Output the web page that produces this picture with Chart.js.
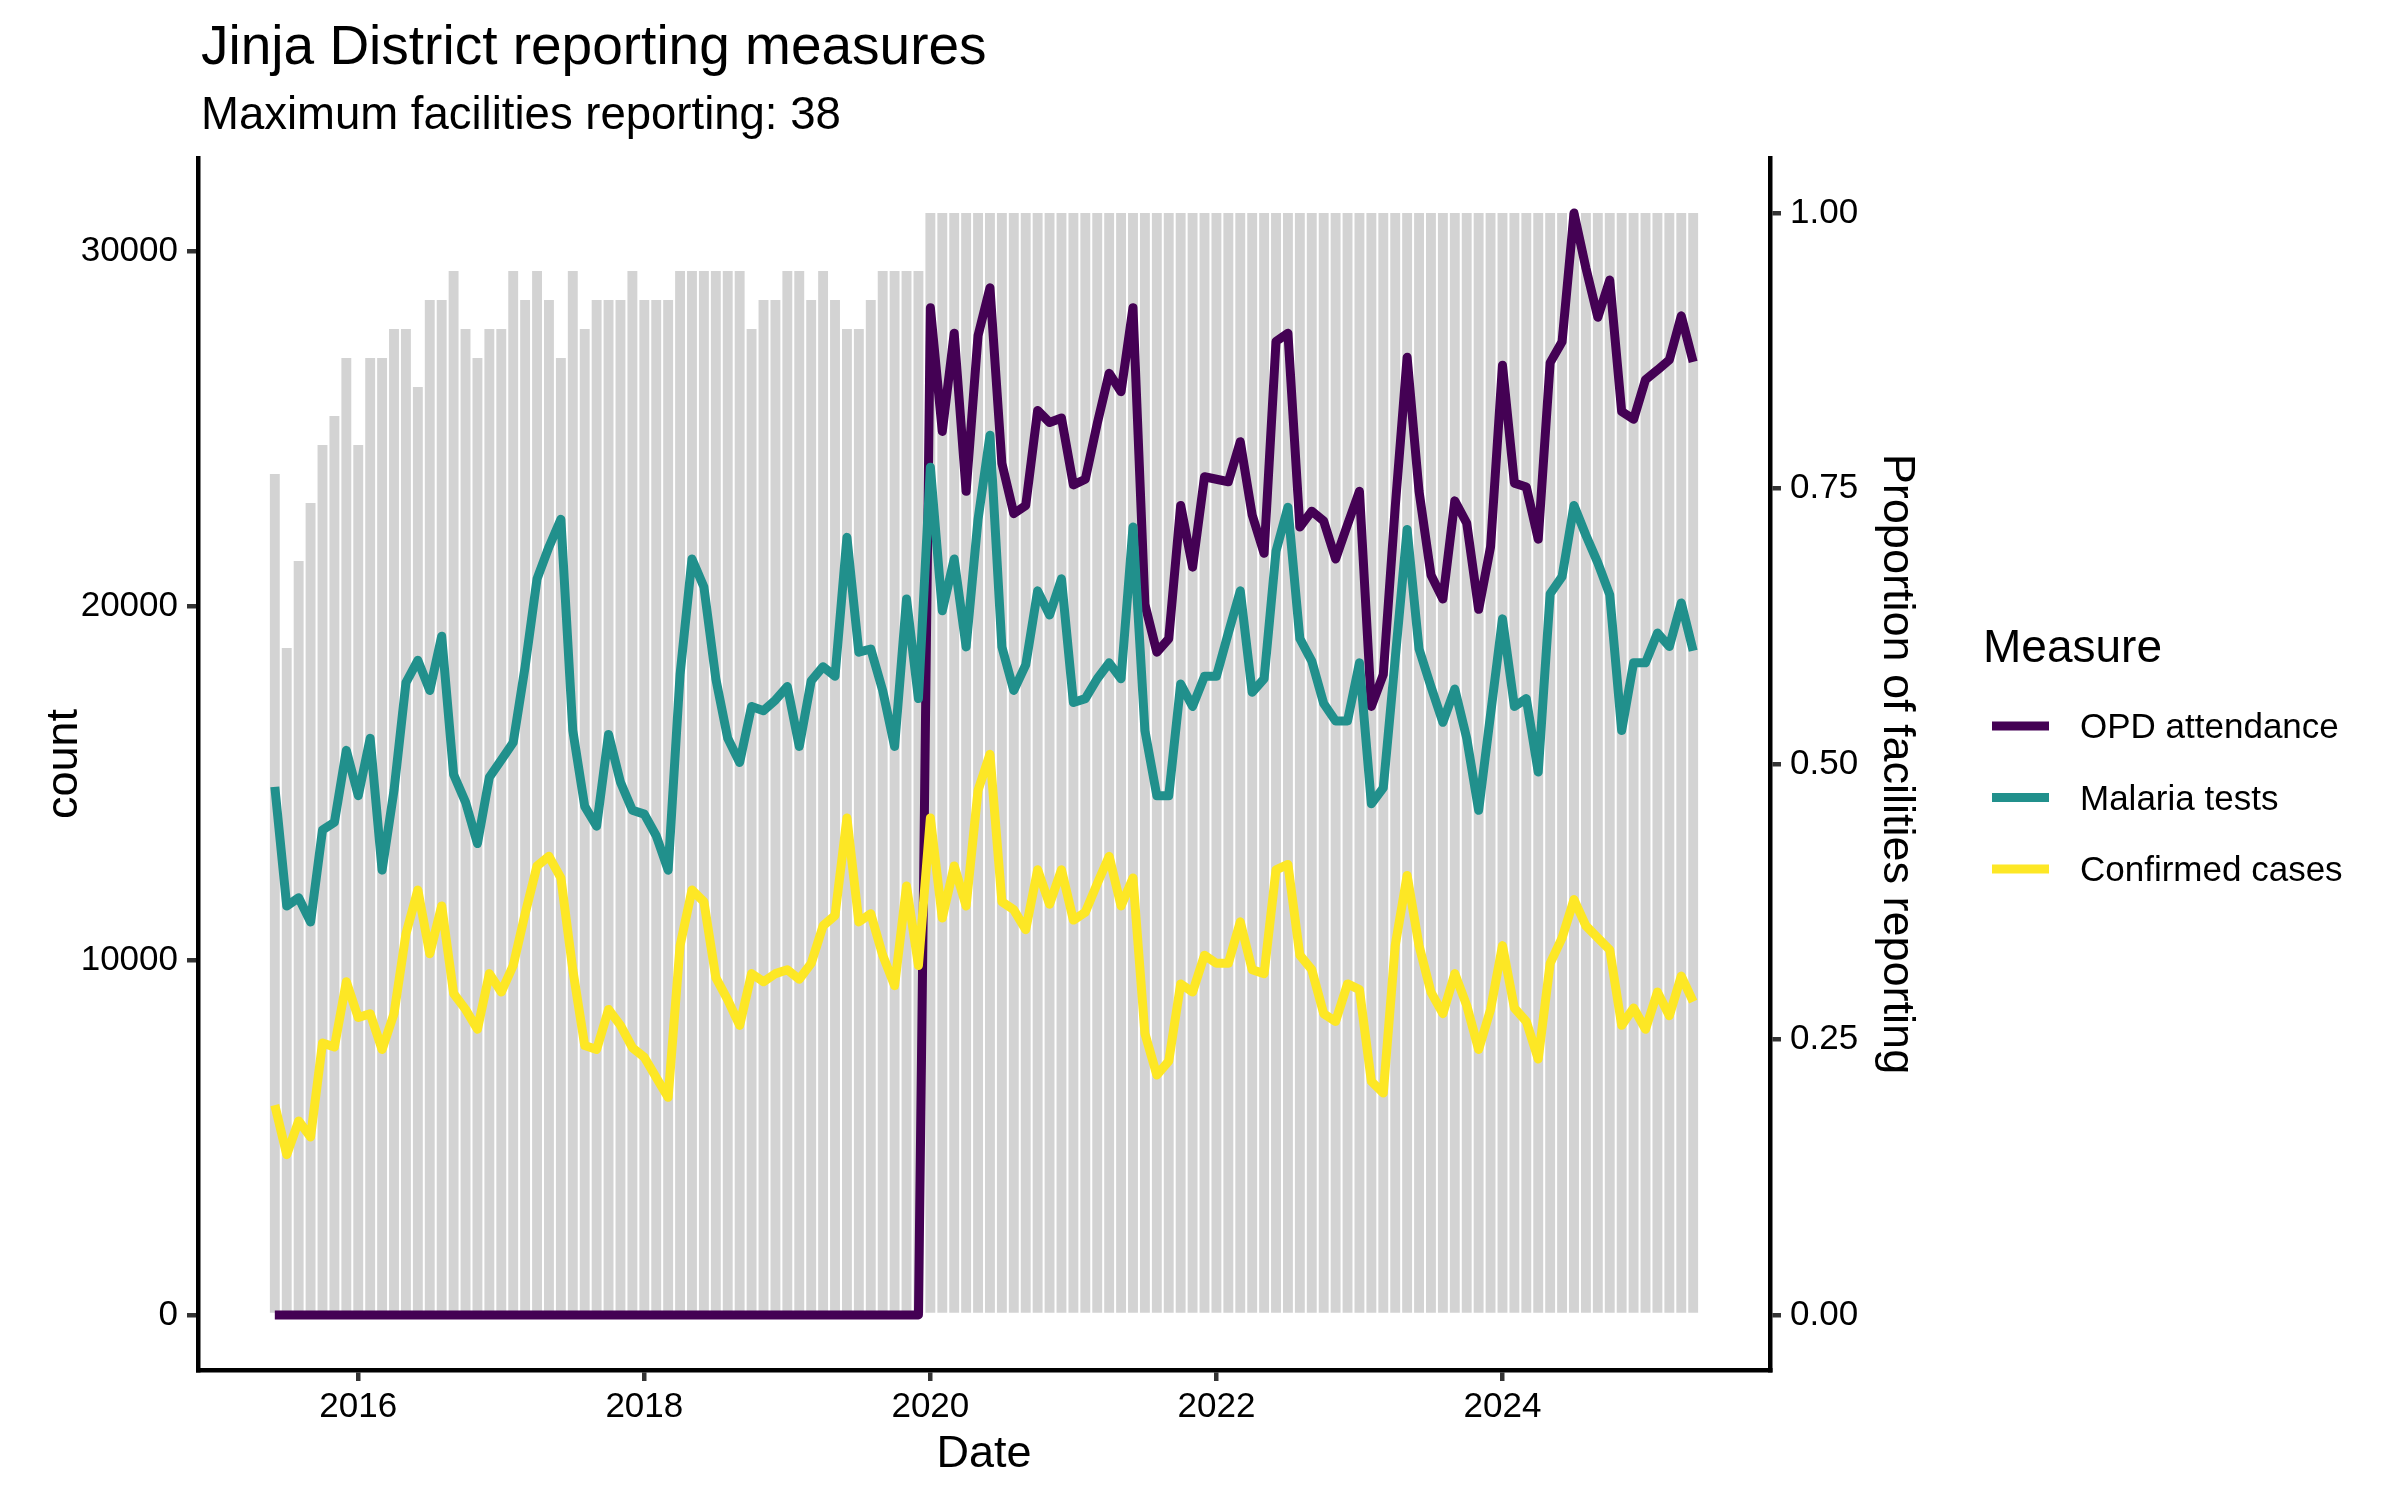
<!DOCTYPE html>
<html>
<head>
<meta charset="utf-8">
<title>Jinja District reporting measures</title>
<script src="https://cdn.jsdelivr.net/npm/chart.js@4.4.1/dist/chart.umd.min.js"></script>
<style>
  html, body { margin: 0; padding: 0; background: #fff; }
  canvas { display: block; }
</style>
</head>
<body>
<canvas id="reportChart" width="2400" height="1500"></canvas>
<script>
// monthly reporting, Jinja District
const months = [
  '2015-06','2015-07','2015-08','2015-09','2015-10','2015-11','2015-12',
  '2016-01','2016-02','2016-03','2016-04','2016-05','2016-06','2016-07','2016-08','2016-09','2016-10','2016-11','2016-12',
  '2017-01','2017-02','2017-03','2017-04','2017-05','2017-06','2017-07','2017-08','2017-09','2017-10','2017-11','2017-12',
  '2018-01','2018-02','2018-03','2018-04','2018-05','2018-06','2018-07','2018-08','2018-09','2018-10','2018-11','2018-12',
  '2019-01','2019-02','2019-03','2019-04','2019-05','2019-06','2019-07','2019-08','2019-09','2019-10','2019-11','2019-12',
  '2020-01','2020-02','2020-03','2020-04','2020-05','2020-06','2020-07','2020-08','2020-09','2020-10','2020-11','2020-12',
  '2021-01','2021-02','2021-03','2021-04','2021-05','2021-06','2021-07','2021-08','2021-09','2021-10','2021-11','2021-12',
  '2022-01','2022-02','2022-03','2022-04','2022-05','2022-06','2022-07','2022-08','2022-09','2022-10','2022-11','2022-12',
  '2023-01','2023-02','2023-03','2023-04','2023-05','2023-06','2023-07','2023-08','2023-09','2023-10','2023-11','2023-12',
  '2024-01','2024-02','2024-03','2024-04','2024-05','2024-06','2024-07','2024-08','2024-09','2024-10','2024-11','2024-12',
  '2025-01','2025-02','2025-03','2025-04','2025-05'
];

const maxFacilities = 38;
const facilities = [
  29, 23, 26, 28, 30, 31, 33, 30, 33, 33,
  34, 34, 32, 35, 35, 36, 34, 33, 34, 34,
  36, 35, 36, 35, 33, 36, 34, 35, 35, 35,
  36, 35, 35, 35, 36, 36, 36, 36, 36, 36,
  34, 35, 35, 36, 36, 35, 36, 35, 34, 34,
  35, 36, 36, 36, 36, 38, 38, 38, 38, 38,
  38, 38, 38, 38, 38, 38, 38, 38, 38, 38,
  38, 38, 38, 38, 38, 38, 38, 38, 38, 38,
  38, 38, 38, 38, 38, 38, 38, 38, 38, 38,
  38, 38, 38, 38, 38, 38, 38, 38, 38, 38,
  38, 38, 38, 38, 38, 38, 38, 38, 38, 38,
  38, 38, 38, 38, 38, 38, 38, 38, 38, 38
];

const opdAttendance = [
  0, 0, 0, 0, 0, 0, 0, 0, 0, 0,
  0, 0, 0, 0, 0, 0, 0, 0, 0, 0,
  0, 0, 0, 0, 0, 0, 0, 0, 0, 0,
  0, 0, 0, 0, 0, 0, 0, 0, 0, 0,
  0, 0, 0, 0, 0, 0, 0, 0, 0, 0,
  0, 0, 0, 0, 0, 28420, 24930, 27700, 23240, 27630,
  28980, 24030, 22610, 22840, 25520, 25180, 25310, 23420, 23580, 25150,
  26570, 26050, 28420, 20050, 18700, 19080, 22840, 21100, 23650, 23580,
  23510, 24640, 22570, 21490, 27470, 27700, 22230, 22680, 22400, 21330,
  22300, 23240, 17170, 18070, 22790, 27020, 23240, 20880, 20200, 22970,
  22340, 19910, 21670, 26800, 23470, 23360, 21890, 26870, 27460, 31090,
  29540, 28150, 29200, 25490, 25270, 26390, 26660, 26950, 28190, 26890
];

const malariaTests = [
  14900, 11540, 11770, 11090, 13680, 13900, 15930, 14650, 16270, 12550,
  14800, 17840, 18470, 17620, 19150, 15250, 14470, 13300, 15170, 15660,
  16150, 18290, 20770, 21670, 22450, 16490, 14350, 13790, 16380, 15030,
  14240, 14130, 13520, 12550, 18070, 21330, 20540, 17950, 16270, 15590,
  17170, 17050, 17350, 17730, 16040, 17890, 18290, 18020, 21940, 18700,
  18790, 17620, 16040, 20200, 17390, 23920, 19870, 21330, 18850, 22450,
  24820, 18850, 17620, 18340, 20430, 19750, 20770, 17280, 17390, 17950,
  18400, 17950, 22230, 16490, 14650, 14650, 17800, 17170, 18020, 18020,
  19240, 20430, 17570, 17950, 21550, 22790, 19080, 18450, 17250, 16760,
  16760, 18400, 14420, 14870, 18520, 22160, 18790, 17730, 16720, 17660,
  16270, 14240, 16940, 19640, 17170, 17390, 15320, 20350, 20830, 22840,
  22000, 21220, 20320, 16490, 18400, 18400, 19240, 18860, 20090, 18740
];

const confirmedCases = [
  5920, 4520, 5470, 5020, 7670, 7560, 9400, 8390, 8500, 7490,
  8500, 10750, 11990, 10190, 11540, 9070, 8620, 8060, 9630, 9110,
  9860, 11320, 12670, 12940, 12330, 9740, 7600, 7490, 8620, 8170,
  7540, 7270, 6700, 6140, 10420, 11990, 11660, 9520, 8890, 8170,
  9630, 9400, 9630, 9740, 9470, 9920, 10980, 11270, 14020, 11090,
  11320, 10150, 9290, 12100, 9860, 14020, 11200, 12670, 11540, 14800,
  15820, 11660, 11430, 10870, 12560, 11590, 12560, 11140, 11360, 12170,
  12940, 11540, 12330, 7940, 6770, 7160, 9340, 9110, 10150, 9920,
  9920, 11090, 9740, 9630, 12560, 12710, 10150, 9740, 8500, 8280,
  9340, 9180, 6590, 6260, 10420, 12400, 10420, 9110, 8500, 9630,
  8730, 7490, 8620, 10420, 8660, 8280, 7220, 9920, 10640, 11720,
  10980, 10640, 10300, 8170, 8660, 8060, 9110, 8440, 9560, 8840
];

const xTicks = [2016, 2018, 2020, 2022, 2024];
const countTicks = [0, 10000, 20000, 30000];
const propTicks = [0, 0.25, 0.5, 0.75, 1];

// date -> decimal year
const xs = months.map(s => {
  const [y, m] = s.split('-').map(Number);
  return y + (m - 1) / 12;
});
const pts = arr => arr.map((v, i) => ({ x: xs[i], y: v }));

// secondary axis is the proportion scaled by the largest count
const maxCount = Math.max(...opdAttendance, ...malariaTests, ...confirmedCases);
const xMin = xs[0] - 0.45 / 12, xMax = xs[xs.length - 1] + 0.45 / 12;
const xPad = (xMax - xMin) * 0.05;

const measures = [
  { label: 'OPD attendance', data: opdAttendance, color: '#440154', order: 3 },
  { label: 'Malaria tests', data: malariaTests, color: '#21908C', order: 2 },
  { label: 'Confirmed cases', data: confirmedCases, color: '#FDE725', order: 1 }
];

const FONT = '"Liberation Sans", Arial, Helvetica, sans-serif';
const LINE_W = 9;

const textLayer = {
  id: 'textLayer',
  afterDraw(chart) {
    const ctx = chart.ctx;
    const a = chart.chartArea;
    const midY = (a.top + a.bottom) / 2;
    ctx.save();
    ctx.fillStyle = '#000';
    ctx.textBaseline = 'alphabetic';
    ctx.textAlign = 'left';
    ctx.font = '55px ' + FONT;
    ctx.fillText('Jinja District reporting measures', 201, 64);
    ctx.font = '45.5px ' + FONT;
    ctx.fillText('Maximum facilities reporting: 38', 201, 129);

    // axis titles
    ctx.font = '45px ' + FONT;
    ctx.textAlign = 'center';
    ctx.fillText('Date', (a.left + a.right) / 2, 1467);
    ctx.save();
    ctx.translate(77, midY);
    ctx.rotate(-Math.PI / 2);
    ctx.fillText('count', 0, 0);
    ctx.restore();
    ctx.save();
    ctx.translate(1884, midY);
    ctx.rotate(Math.PI / 2);
    ctx.fillText('Proportion of facilities reporting', 0, 0);
    ctx.restore();

    // legend
    ctx.textAlign = 'left';
    ctx.font = '46px ' + FONT;
    ctx.fillText('Measure', 1983, 662);
    ctx.font = '35px ' + FONT;
    measures.forEach((m, i) => {
      const y = 726 + i * 71.5;
      ctx.strokeStyle = m.color;
      ctx.lineWidth = LINE_W;
      ctx.beginPath();
      ctx.moveTo(1992, y);
      ctx.lineTo(2049, y);
      ctx.stroke();
      ctx.fillText(m.label, 2080, y + 12);
    });
    ctx.restore();
  }
};

const axisLine = { display: true, color: '#000', width: 4.5 };
const tickGrid = { drawOnChartArea: false, drawTicks: true, offset: false, tickLength: 11, color: '#333', lineWidth: 4.5 };
const tickFont = { family: FONT, size: 35 };

new Chart(document.getElementById('reportChart'), {
  type: 'bar',
  data: {
    datasets: [
      ...measures.map(m => ({
        type: 'line',
        label: m.label,
        data: pts(m.data),
        borderColor: m.color,
        backgroundColor: m.color,
        borderWidth: LINE_W,
        borderJoinStyle: 'round',
        borderCapStyle: 'butt',
        pointRadius: 0,
        tension: 0,
        yAxisID: 'y',
        order: m.order
      })),
      {
        type: 'bar',
        label: 'Proportion reporting',
        data: pts(facilities.map(f => f / maxFacilities)),
        backgroundColor: '#D3D3D3',
        borderWidth: 0,
        barPercentage: 0.83,
        categoryPercentage: 1,
        yAxisID: 'y2',
        order: 10
      }
    ]
  },
  options: {
    responsive: false,
    animation: false,
    devicePixelRatio: 1,
    layout: { padding: { top: 158, left: 0, right: 0, bottom: 0 } },
    plugins: {
      legend: { display: false },
      title: { display: false },
      tooltip: { enabled: false }
    },
    scales: {
      x: {
        type: 'linear',
        offset: false,
        min: xMin - xPad,
        max: xMax + xPad,
        afterBuildTicks: s => { s.ticks = xTicks.map(v => ({ value: v })); },
        afterFit: s => { s.height = 130; },
        ticks: { color: '#000', font: tickFont, padding: 5, maxRotation: 0, callback: v => String(v) },
        grid: tickGrid,
        border: axisLine
      },
      y: {
        position: 'left',
        min: -0.05 * maxCount,
        max: 1.05 * maxCount,
        afterBuildTicks: s => { s.ticks = countTicks.map(v => ({ value: v })); },
        afterFit: s => { s.width = 198; },
        ticks: { color: '#000', font: tickFont, padding: 9, callback: v => String(v) },
        grid: tickGrid,
        border: axisLine
      },
      y2: {
        position: 'right',
        min: -0.05,
        max: 1.05,
        afterBuildTicks: s => { s.ticks = propTicks.map(v => ({ value: v })); },
        afterFit: s => { s.width = 630; },
        ticks: { color: '#000', font: tickFont, padding: 9, callback: v => v.toFixed(2) },
        grid: tickGrid,
        border: axisLine
      }
    }
  },
  plugins: [textLayer]
});
</script>
</body>
</html>
